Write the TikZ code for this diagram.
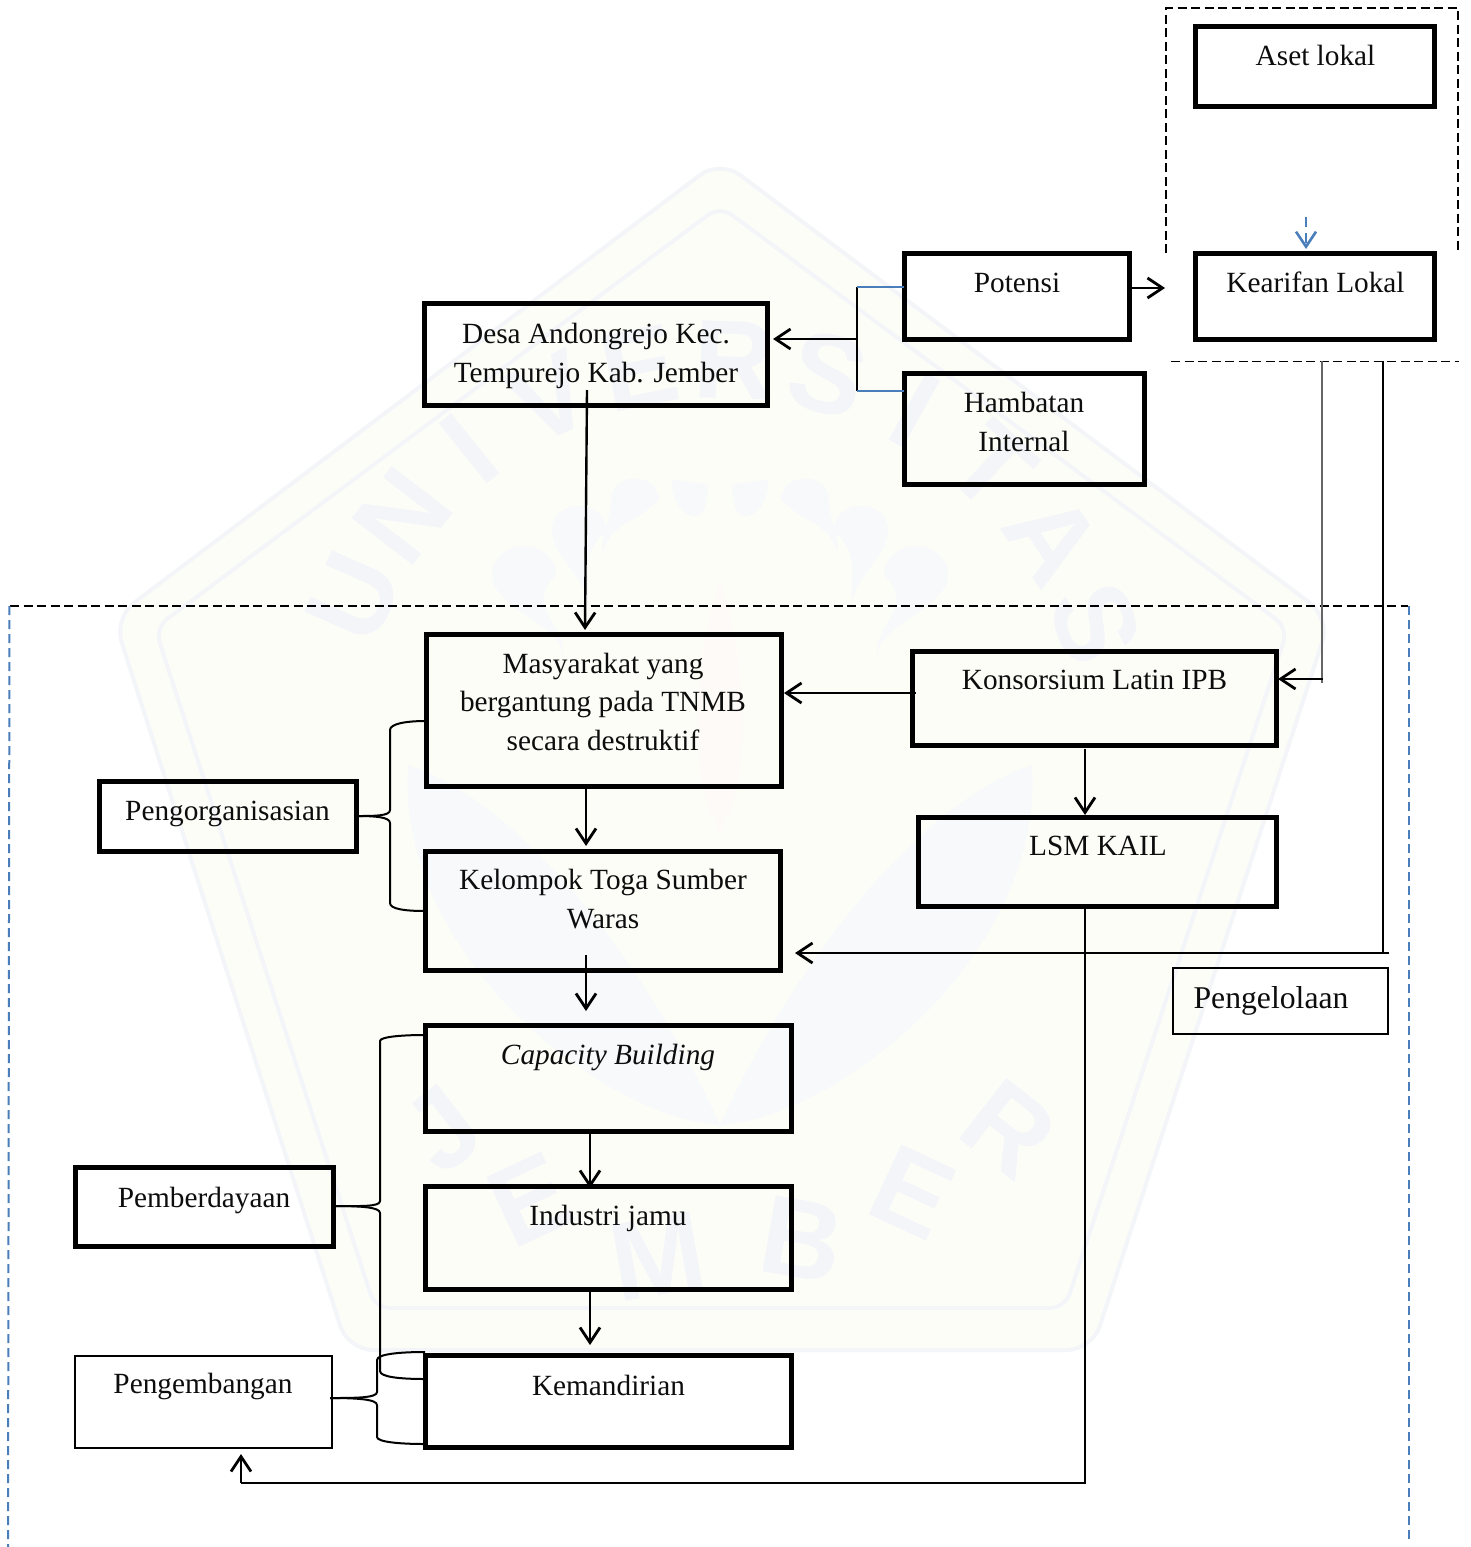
\documentclass[tikz,border=0pt]{standalone}
\usepackage{fontspec}
\setmainfont{Liberation Serif}
\newfontfamily\wmfont{Liberation Sans}
\usetikzlibrary{arrows.meta}
\definecolor{dashblue}{HTML}{4A7EBB}
\definecolor{wm}{HTML}{F4F5F8}
\definecolor{wmsoft}{HTML}{F8F9FA}
\definecolor{wmfill}{HTML}{FDFDF8}
\definecolor{wmpink}{HTML}{FEFAF7}
\tikzset{
  x=1pt,y=-1pt,
  heavy/.style={draw=black,line width=5pt,rectangle,inner sep=0pt},
  light/.style={draw=black,line width=1.4pt,rectangle,inner sep=0pt},
  lab/.style={font=\fontsize{29.3}{38.5}\selectfont,align=center,inner sep=0pt,anchor=base,text=black!95},
  arr/.style={line width=2.4pt,-{Straight Barb[length=15pt,width=20pt,line width=2.8pt]}},
  conn/.style={line width=2.2pt},
  brace/.style={line width=2pt},
  dashk/.style={line width=1.8pt,dash pattern=on 9pt off 4.5pt},
  dashb/.style={line width=2pt,draw=dashblue,dash pattern=on 9pt off 5pt},
  wmletter/.style={font=\fontsize{112}{112}\selectfont\bfseries\wmfont,text=wm,inner sep=0pt}
}
\newcommand{\bx}[6]{%
  \pgfmathsetmacro{\bw}{#5-#3}\pgfmathsetmacro{\bh}{#6-#4}%
  \pgfmathsetmacro{\bcx}{(#5+#3)/2}\pgfmathsetmacro{\bcy}{(#6+#4)/2}%
  \node[#2,minimum width=\bw pt,minimum height=\bh pt,outer sep=0pt] (#1) at (\bcx,\bcy) {};}
\newcommand{\comma}[5]{% head x, head y, radius, tail x, tail y
  \fill[wmsoft] (#1-#3,#2) .. controls (#1-#3,#2-1.2*#3) and (#1+#3,#2-1.2*#3) .. (#1+#3,#2)
    .. controls (#1+#3,#2+#3) and (#4+3,#5-30) .. (#4,#5)
    .. controls (#4-3,#5-30) and (#1,#2+#3) .. cycle;}
\begin{document}
\begin{tikzpicture}
\useasboundingbox (0,0) rectangle (1470,1547);
\fill[white] (0,0) rectangle (1470,1547);
% watermark
\fill[wmfill,rounded corners=25pt] (720,160) -- (1330,618) -- (1092,1350) -- (348,1350) -- (114,618) -- cycle;
\draw[wm,line width=4pt,rounded corners=25pt] (720,160) -- (1330,618) -- (1092,1350) -- (348,1350) -- (114,618) -- cycle;
\draw[wm,line width=4pt,rounded corners=15pt] (720,206) -- (1288,628) -- (1065,1308) -- (375,1308) -- (155,628) -- cycle;
\fill[wmpink] (720,580) .. controls (745,650) and (755,780) .. (720,830) .. controls (685,780) and (695,650) .. cycle;
\foreach \s in {1,-1}{
  \begin{scope}[shift={(720,0)},xscale=\s]
    \fill[wmsoft] (12,484) -- (48,480) .. controls (50,505) and (30,520) .. (22,516) .. controls (15,512) and (12,500) .. cycle;
    \comma{85}{500}{24}{117}{555}
    \comma{141}{530}{27}{132}{605}
    \comma{196}{575}{32}{157}{655}
    \fill[wmsoft] (0,1125) .. controls (110,1120) and (325,960) .. (312,765) .. controls (205,800) and (80,950) .. cycle;
  \end{scope}
}
\foreach \l [count=\i from 0] in {U,N,I,V,E,R,S,I,T,A,S}{
  \pgfmathsetmacro{\ang}{156-\i*13.6}
  \pgfmathsetmacro{\lx}{720+400*cos(\ang)}
  \pgfmathsetmacro{\ly}{760-400*sin(\ang)}
  \pgfmathsetmacro{\rt}{\ang-90}
  \node[wmletter,rotate=\rt] (wl\i) at (\lx,\ly) {\l};
}
\node[wmletter,rotate=38] (wj) at (443,1129) {J};
\node[wmletter,rotate=25] (we) at (530,1200) {E};
\node[wmletter,rotate=10] (wm1) at (658,1256) {M};
\node[wmletter,rotate=-10] (wb) at (802,1240) {B};
\node[wmletter,rotate=-25] (we2) at (913,1192) {E};
\node[wmletter,rotate=-38] (wr) at (1009,1129) {R};

% dashed frames
\coordinate (ta) at (1166,253); \coordinate (tb) at (1166,8); \coordinate (tc) at (1458,8); \coordinate (td) at (1458,253);
\draw[dashk] (ta) -- (tb) -- (tc) -- (td);
\coordinate (la) at (1171,361.5); \coordinate (lb) at (1459,361.5);
\draw[dashk] (la) -- (lb);
\coordinate (fa) at (10,606); \coordinate (fb) at (1408,606);
\draw[dashk] (fa) -- (fb);
\coordinate (fl) at (8,1547); \coordinate (fr) at (1409,1540); \coordinate (fa2) at (9.5,606); \coordinate (fb2) at (1409,606);
\draw[dashb] (fa2) -- (fl);
\draw[dashb] (fb2) -- (fr);

% boxes
\bx{aset}{heavy}{1195.5}{26}{1434.5}{106.5}
\bx{kear}{heavy}{1195.5}{253.5}{1434.5}{339}
\bx{pot}{heavy}{904}{253.5}{1129.5}{339}
\bx{ham}{heavy}{904}{373}{1144}{484}
\bx{desa}{heavy}{424}{303.5}{767.5}{405}
\bx{masy}{heavy}{426}{634}{781}{786.5}
\bx{kel}{heavy}{425}{851}{780.5}{970}
\bx{cap}{heavy}{425}{1025}{791.5}{1131}
\bx{ind}{heavy}{425}{1186}{791.5}{1289.5}
\bx{kem}{heavy}{425}{1355}{791.5}{1447}
\bx{kons}{heavy}{912}{651}{1276.5}{745}
\bx{lsm}{heavy}{918}{817}{1276.5}{906.5}
\bx{org}{heavy}{99}{781}{356.5}{851}
\bx{pemb}{heavy}{75}{1167}{333.5}{1246.5}
\bx{peng}{light}{75}{1356}{332}{1448}
\bx{pkl}{light}{1173}{968}{1388}{1034}

% labels
\node[lab] (taset) at (1315.5,65) {Aset lokal};
\node[lab] (tkear) at (1315.5,292) {Kearifan Lokal};
\node[lab] (tpot) at (1017,292) {Potensi};
\node[lab] (tham) at (1024,451) {Hambatan\\Internal};
\node[lab] (tdesa) at (596,382) {Desa Andongrejo Kec.\\Tempurejo Kab. Jember};
\node[lab] (tmasy) at (603,750) {Masyarakat yang\\bergantung pada TNMB\\secara destruktif};
\node[lab] (tkel) at (603,928) {Kelompok Toga Sumber\\Waras};
\node[lab,font=\fontsize{29.3}{38.5}\selectfont\itshape] (tcap) at (608,1064) {Capacity Building};
\node[lab] (tind) at (608,1225) {Industri jamu};
\node[lab] (tkem) at (608.5,1395) {Kemandirian};
\node[lab] (tkons) at (1094.5,689) {Konsorsium Latin IPB};
\node[lab] (tlsm) at (1098,855) {LSM KAIL};
\node[lab] (torg) at (227.5,820) {Pengorganisasian};
\node[lab] (tpemb) at (204,1207) {Pemberdayaan};
\node[lab] (tpeng) at (203,1393) {Pengembangan};
\node[lab,font=\fontsize{31.7}{38.5}\selectfont] (tpkl) at (1271,1008) {Pengelolaan};

% connectors
\coordinate (blueA) at (1306,217);
\draw[line width=2.4pt,draw=dashblue,dash pattern=on 10pt off 6pt,-{Straight Barb[length=15pt,width=20pt,line width=2.6pt]}] (blueA) -- (1306,249);
\draw[arr] (pot.east |- 0,288) -- (1165,288);
\coordinate (bt) at (857,287); \coordinate (bb) at (857,391); \coordinate (bm) at (857,339);
\draw[conn] (bt) -- (bb);
\draw[line width=1.8pt,draw=dashblue] (bt) -- (bt -| pot.west);
\draw[line width=1.8pt,draw=dashblue] (bb) -- (bb -| ham.west);
\draw[arr] (bm) -- (773,339);
\coordinate (d1) at (587,390);
\draw[arr] (d1) -- (585,630);
\coordinate (g1) at (1322,361); \coordinate (g2) at (1322,683);
\draw[line width=1.4pt,draw=black!60] (g1) -- (g2);
\coordinate (g3) at (1323,679);
\draw[arr] (g3) -- (1278,679);
\coordinate (k1) at (1383,361); \coordinate (k2) at (1383,953); \coordinate (k3) at (1389,953);
\draw[line width=1.8pt] (k1) -- (k2);
\draw[arr] (k3) -- (795,953);
\coordinate (ko) at (916,693);
\draw[arr] (ko) -- (784,693);
\draw[arr] (1085,749) -- (1085,815);
\coordinate (cornA) at (1085,1483); \coordinate (cornB) at (241,1483);
\draw[line width=2pt] (lsm.south -| cornA) -- (cornA) -- (cornB);
\draw[arr] (cornB) -- (241,1454);
\draw[arr] (masy.south -| 586,0) -- (586,846);
\draw[arr] (586,955) -- (586,1011);
\draw[arr] (cap.south -| 590,0) -- (590,1188);
\draw[arr] (590,1287) -- (590,1345);

% braces
\draw[brace] (org.east |- 0,816) .. controls (375,816) and (390,816) .. (390,810) -- (390,730) .. controls (390,724) and (405,721) .. (masy.west |- 0,721);
\draw[brace] (org.east |- 0,816) .. controls (375,816) and (390,817) .. (390,823) -- (390,903) .. controls (390,909) and (405,911) .. (kel.west |- 0,911);
\draw[brace] (pemb.east |- 0,1206) .. controls (360,1206) and (380,1207) .. (380,1201) -- (380,1041) .. controls (380,1037) and (400,1035) .. (cap.west |- 0,1035);
\draw[brace] (pemb.east |- 0,1206) .. controls (360,1206) and (380,1207) .. (380,1213) -- (380,1371) .. controls (380,1377) and (400,1379) .. (kem.west |- 0,1379);
\draw[brace] (330,1398) .. controls (355,1398) and (377,1398) .. (377,1392) -- (377,1360) .. controls (377,1354) and (400,1352) .. (kem.west |- 0,1352);
\draw[brace] (330,1398) .. controls (355,1398) and (377,1399) .. (377,1405) -- (377,1437) .. controls (377,1442) and (400,1444) .. (kem.west |- 0,1444);
\end{tikzpicture}
\end{document}
